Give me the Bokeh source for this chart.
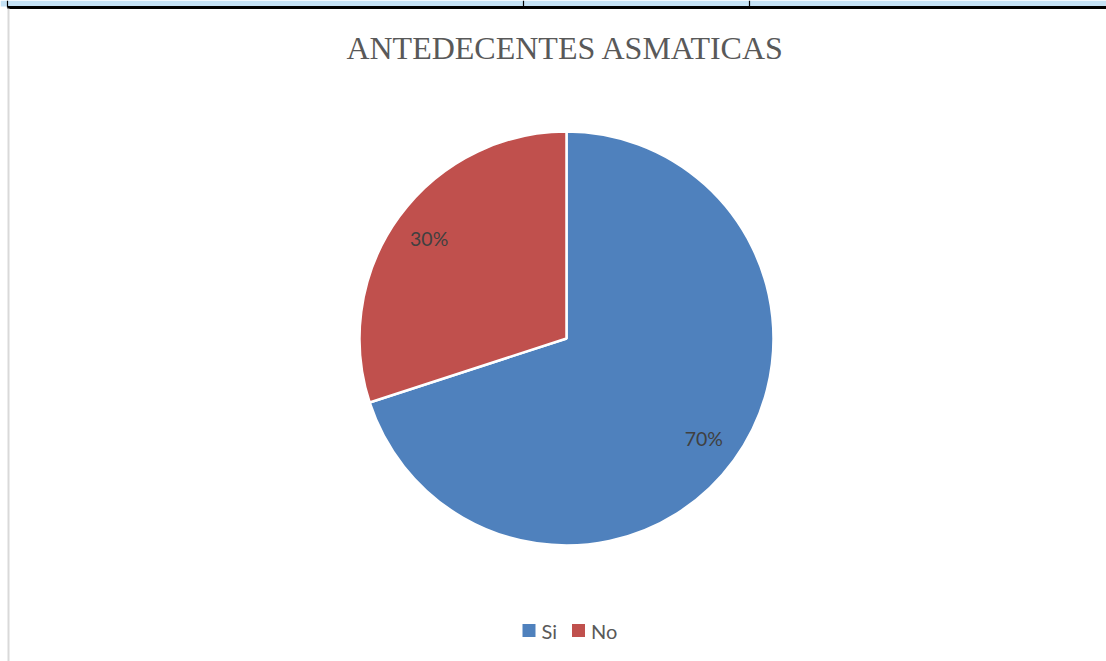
import math
from bokeh.plotting import figure
from bokeh.models import ColumnDataSource, Range1d, Label
from bokeh.core.properties import value
from bokeh.embed import file_html
from bokeh.resources import INLINE

# ---- data ----
categories = ["Si", "No"]
percentages = [70, 30]
colors = ["#4F81BD", "#C0504D"]
title_text = "ANTEDECENTES ASMATICAS"

W, H = 1106, 661
p = figure(width=W, height=H, output_backend="svg", toolbar_location=None,
           x_range=Range1d(0, W), y_range=Range1d(0, H), min_border=0,
           tools="")
p.axis.visible = False
p.grid.visible = False
p.outline_line_color = None
p.background_fill_color = "white"
p.border_fill_color = "white"

# ---- page decoration (table border above the chart) ----
p.quad(left=[0], right=[W], bottom=[H - 6], top=[H], fill_color="#C5E2F5", line_color=None)
p.segment(x0=[7], y0=[H - 7], x1=[W], y1=[H - 7], line_color="black", line_width=3)
p.segment(x0=[523, 749, 7], y0=[H, H, H], x1=[523, 749, 7], y1=[H - 7, H - 7, H - 7],
          line_color="black", line_width=1.2)
p.segment(x0=[8], y0=[H - 8], x1=[8], y1=[0], line_color="#D9D9D9", line_width=2)

# ---- pie ----
cx, cy, R = 566, H - 338, 207
total = sum(percentages)
starts, ends, lx, ly, labels = [], [], [], [], []
ang = math.pi / 2
for v in percentages:
    sweep = v / total * 2 * math.pi
    s, e = ang - sweep, ang  # clockwise from top
    starts.append(s)
    ends.append(e)
    mid = (s + e) / 2
    lx.append(cx + 0.82 * R * math.cos(mid))
    ly.append(cy + 0.82 * R * math.sin(mid))
    labels.append(f"{v}%")
    ang = s

src = ColumnDataSource(dict(cat=categories, start=starts, end=ends, color=colors,
                            lx=lx, ly=ly, label=labels))
p.wedge(x=cx, y=cy, radius=R, start_angle="start", end_angle="end",
        fill_color="color", line_color="white", line_width=2.5, source=src)

p.text(x="lx", y="ly", text="label", source=src, text_align="center",
       text_baseline="middle", text_font=value("Lato"), text_font_size="19.5px",
       text_color="#404040")

# ---- title ----
p.add_layout(Label(x=565, y=H - 47, text=title_text, text_align="center",
                   text_baseline="middle", text_font="Liberation Serif",
                   text_font_size="32px", text_color="#595959"))

# ---- legend (drawn manually) ----
leg_y = H - 630
item_x = [528.5, 578]
leg = ColumnDataSource(dict(x=item_x, tx=[x + 12.5 for x in item_x], y=[leg_y] * 2,
                            color=colors, label=categories))
p.scatter(x="x", y="y", marker="square", size=13, fill_color="color", line_color=None, source=leg)
p.text(x="tx", y="y", text="label", source=leg, text_align="left", text_baseline="middle",
       text_font=value("Lato"), text_font_size="20px", text_color="#595959")

open("out.html", "w").write(file_html(p, INLINE))
